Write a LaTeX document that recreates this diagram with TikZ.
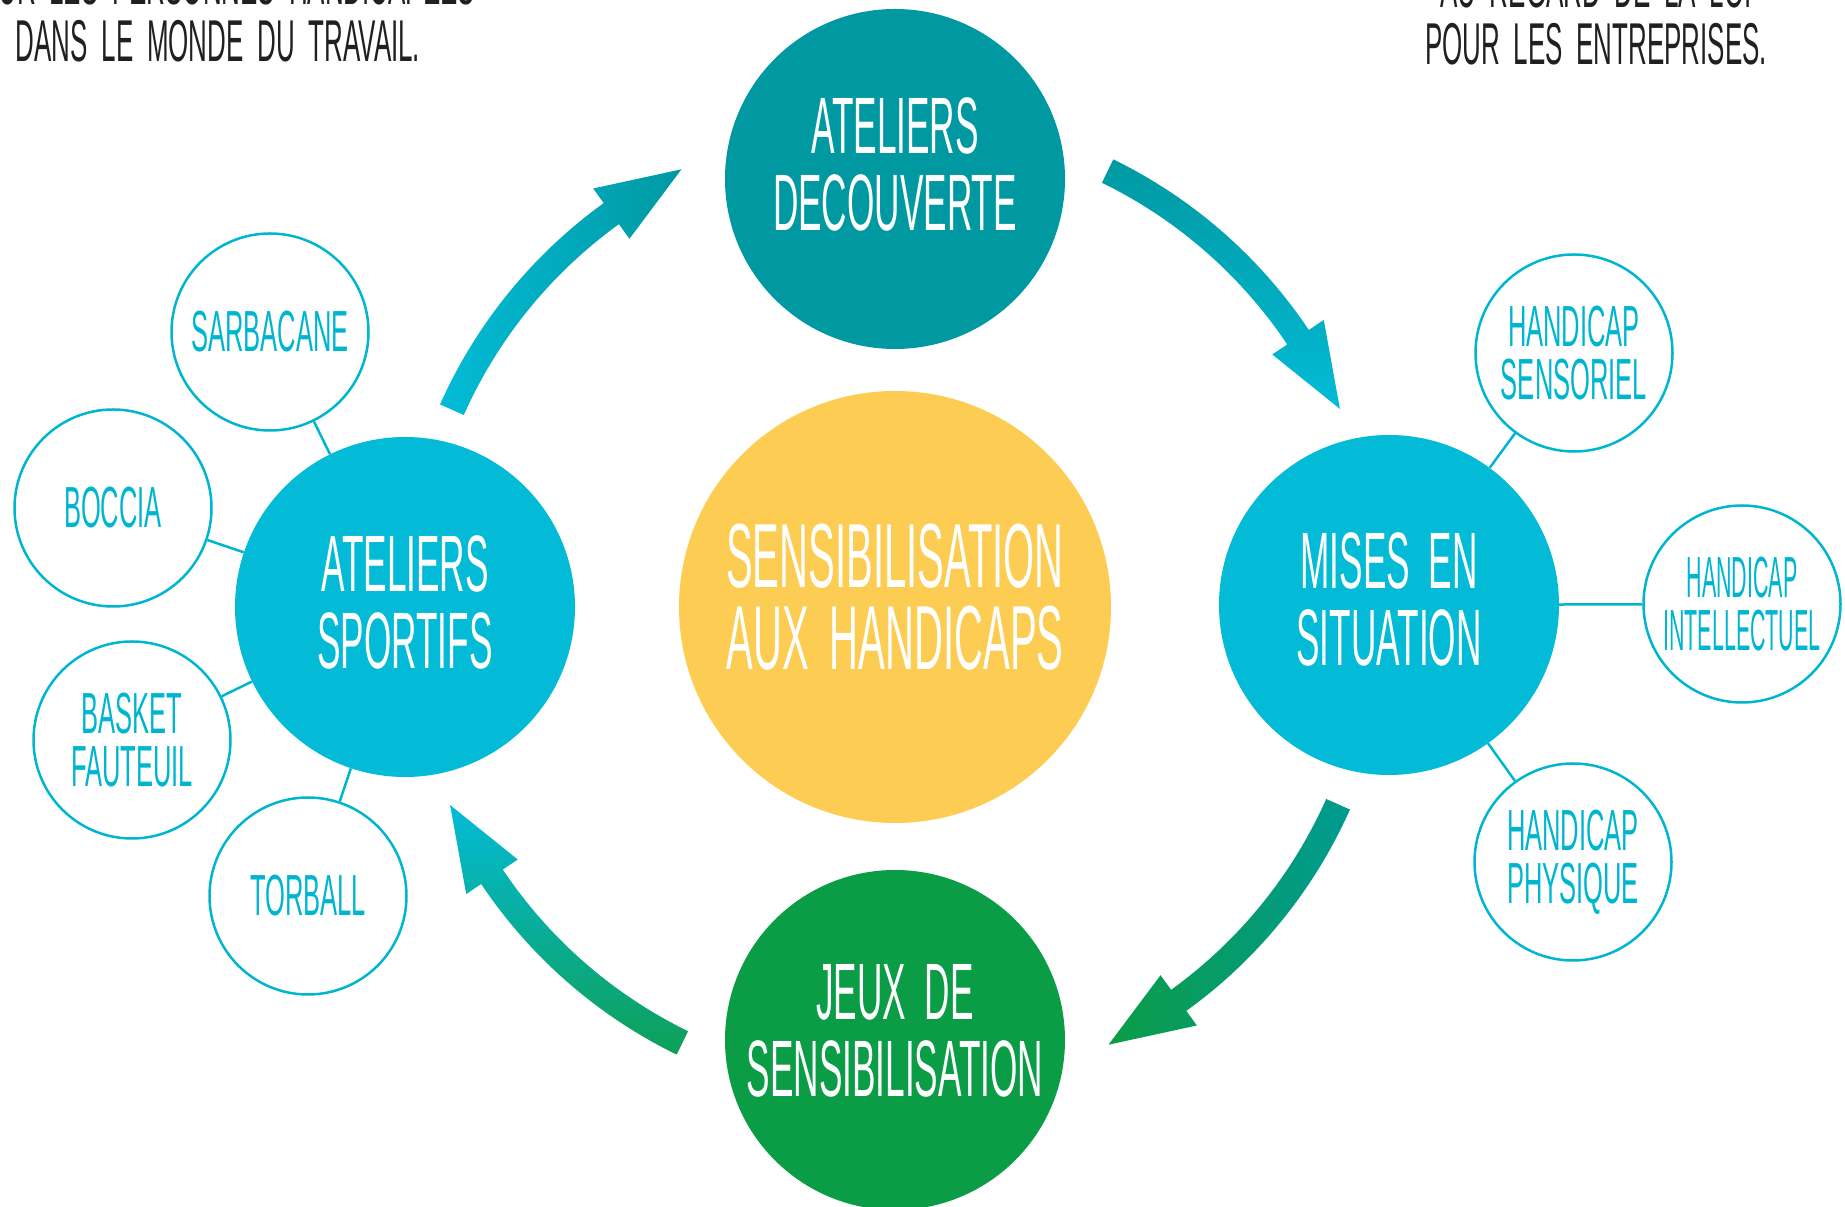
\documentclass[tikz,border=0pt]{standalone}
\usepackage{fontspec}
\newfontfamily\handfont{Liberation Sans}[FakeStretch=0.44,WordSpace=1.9]
\newfontfamily\handnarrow{Liberation Sans}[FakeStretch=0.37,WordSpace=1.9]
\usetikzlibrary{calc}
\definecolor{hubyellow}{RGB}{253,205,83}
\definecolor{tealA}{RGB}{0,153,162}
\definecolor{tealB}{RGB}{0,155,145}
\definecolor{cyanA}{RGB}{3,187,215}
\definecolor{greenA}{RGB}{11,156,70}
\definecolor{greenB}{RGB}{14,160,88}
\definecolor{leafcyan}{RGB}{0,181,208}
\definecolor{ink}{RGB}{35,31,32}
\begin{document}
\begin{tikzpicture}[x=1pt,y=1pt,
  bigdot/.style={circle,minimum size=340,inner sep=0},
  bigtext/.style={text=white,align=center,inner sep=0,font=\handfont\fontsize{80}{77}\selectfont},
  leaf/.style={circle,draw=leafcyan,line width=2.5,minimum size=197,inner sep=0,
    text=leafcyan,align=center,font=\handfont\fontsize{58}{53}\selectfont},
  spoke/.style={draw=leafcyan,line width=2.5},
  corner/.style={text=ink,align=center,inner sep=0,anchor=south,font=\handfont\fontsize{59}{57}\selectfont},
  flowone/.style={left color=cyanA,right color=tealA},
  flowtwo/.style={top color=tealA,bottom color=cyanA},
  flowthree/.style={left color=greenA,right color=tealB},
  flowfour/.style={top color=cyanA,bottom color=greenB}]
\useasboundingbox (0,0) rectangle (1845,1207);
\clip (0,0) rectangle (1845,1207);

\node[corner] (leftnote) at (218,1145) {POUR LES PERSONNES HANDICAPÉES\\DANS LE MONDE DU TRAVAIL.};
\node[corner] (rightnote) at (1596,1142) {AU REGARD DE LA LOI\\POUR LES ENTREPRISES.};

\node[bigdot,fill=hubyellow,minimum size=432] (hub) at (895,600) {};
\node[bigdot,fill=tealA] (decouverte) at (895,1028) {};
\node[bigdot,fill=cyanA] (sportifs) at (405,600) {};
\node[bigdot,fill=cyanA] (situation) at (1389,602) {};
\node[bigdot,fill=greenA] (jeux) at (895,167) {};

\node[bigtext,font=\handfont\fontsize{91}{82}\selectfont] (hubtxt) at ([yshift=10]hub.center) {SENSIBILISATION\\AUX HANDICAPS};
\node[bigtext] (decouvertetxt) at ([yshift=15]decouverte.center) {ATELIERS\\DECOUVERTE};
\node[bigtext] (sportifstxt) at ([yshift=5]sportifs.center) {ATELIERS\\SPORTIFS};
\node[bigtext] (situationtxt) at ([yshift=6]situation.center) {MISES EN\\SITUATION};
\node[bigtext] (jeuxtxt) at ([yshift=9]jeux.center) {JEUX DE\\SENSIBILISATION};

\node[leaf] (sarbacane) at (270,875) {SARBACANE};
\node[leaf] (boccia) at (113,699) {BOCCIA};
\node[leaf] (basket) at (132,467) {BASKET\\FAUTEUIL};
\node[leaf] (torball) at (308,311) {TORBALL};
\node[leaf] (sensoriel) at (1574,854) {HANDICAP\\SENSORIEL};
\node[leaf,font=\handnarrow\fontsize{58}{53}\selectfont] (intellectuel) at (1742,603) {HANDICAP\\INTELLECTUEL};
\node[leaf] (physique) at (1573,345) {HANDICAP\\PHYSIQUE};

\foreach \x in {sarbacane,boccia,basket,torball}{
\draw[spoke] (\x) -- (sportifs);
}
\foreach \x in {sensoriel,intellectuel,physique}{
\draw[spoke] (\x) -- (situation);
}

\foreach \s/\t/\sty [evaluate=\t as \b using \t+9.8] in {156/116/flowone,64/24/flowtwo,-24/-64/flowthree,-116/-156/flowfour}{
\shade[\sty] ($(hub.center)+(\s:498)$) arc[start angle=\s,end angle=\b,radius=498]
  -- ($(hub.center)+(\b:516)$) -- ($(hub.center)+(\t:487)$) -- ($(hub.center)+(\b:454)$)
  -- ($(hub.center)+(\b:472)$) arc[start angle=\b,end angle=\s,radius=472] -- cycle;
}
\end{tikzpicture}
\end{document}
